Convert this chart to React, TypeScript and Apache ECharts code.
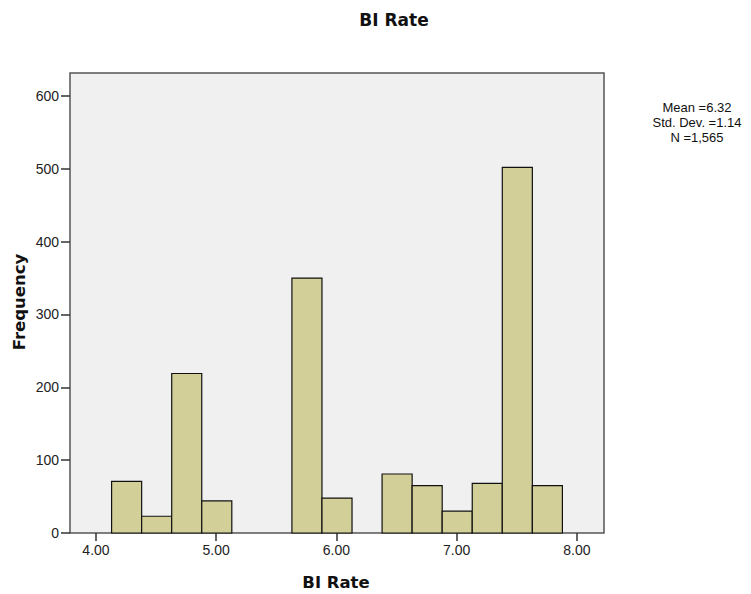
import React, { useEffect, useRef } from "react";
import * as echarts from "echarts";

const binStarts = [4.13, 4.38, 4.63, 4.88, 5.63, 5.88, 6.38, 6.63, 6.88, 7.13, 7.38, 7.63];
const binWidth = 0.25;
const frequencies = [71, 23, 219, 44, 350, 48, 81, 65, 30, 68, 502, 65];
const xTicks = [4, 5, 6, 7, 8];
const yTicks = [0, 100, 200, 300, 400, 500, 600];
const titleText = "BI Rate";
const xAxisTitle = "BI Rate";
const yAxisTitle = "Frequency";
const statsLines = ["Mean =6.32", "Std. Dev. =1.14", "N =1,565"];

export default function App() {
  const ref = useRef<HTMLDivElement>(null);
  useEffect(() => {
    if (!ref.current) return;
    const chart = echarts.init(ref.current, undefined, { renderer: "svg" });
    const data = binStarts.map((s, i) => [s, s + binWidth, frequencies[i]]);
    const font = "Liberation Sans, Arial, sans-serif";
    const boldFont = "DejaVu Sans, sans-serif";
    chart.setOption({
      animation: false,
      backgroundColor: "#ffffff",
      grid: {
        left: 70,
        top: 73,
        right: 147,
        bottom: 61,
        show: true,
        backgroundColor: "#f0f0f0",
        borderColor: "#555",
        borderWidth: 1.5,
      },
      xAxis: {
        type: "value",
        min: 3.784,
        max: 8.226,
        axisLine: { show: false },
        splitLine: { show: false },
        axisTick: { show: true, length: 8, customValues: xTicks, lineStyle: { color: "#333", width: 1.5 } },
        axisLabel: {
          customValues: xTicks,
          formatter: (v: number) => v.toFixed(2),
          fontFamily: font,
          fontSize: 14,
          color: "#222",
          margin: 10,
        },
      },
      yAxis: {
        type: "value",
        min: 0,
        max: 631.5,
        axisLine: { show: false },
        splitLine: { show: false },
        axisTick: { show: true, length: 9, customValues: yTicks, lineStyle: { color: "#333", width: 1.5 } },
        axisLabel: {
          customValues: yTicks,
          fontFamily: font,
          fontSize: 14,
          color: "#222",
          margin: 11,
        },
      },
      series: [
        {
          type: "custom",
          data,
          encode: { x: [0, 1], y: 2 },
          renderItem: (params: any, api: any) => {
            const s = api.value(0);
            const e = api.value(1);
            const v = api.value(2);
            const p0 = api.coord([s, v]);
            const p1 = api.coord([e, 0]);
            return {
              type: "rect",
              shape: { x: p0[0], y: p0[1], width: p1[0] - p0[0], height: p1[1] - p0[1] },
              style: { fill: "#d3cf98", stroke: "#111", lineWidth: 1.2 },
            };
          },
        },
      ],
      graphic: [
        {
          type: "text",
          x: 394,
          y: 20,
          style: {
            text: titleText,
            textAlign: "center",
            textVerticalAlign: "middle",
            fontFamily: boldFont,
            fontWeight: "bold",
            fontSize: 17,
            fill: "#111",
          },
        },
        {
          type: "text",
          x: 336,
          y: 582,
          style: {
            text: xAxisTitle,
            textAlign: "center",
            textVerticalAlign: "middle",
            fontFamily: boldFont,
            fontWeight: "bold",
            fontSize: 16.5,
            fill: "#111",
          },
        },
        {
          type: "text",
          x: 19,
          y: 302,
          rotation: Math.PI / 2,
          style: {
            text: yAxisTitle,
            textAlign: "center",
            textVerticalAlign: "middle",
            fontFamily: boldFont,
            fontWeight: "bold",
            fontSize: 16.5,
            fill: "#111",
          },
        },
        {
          type: "text",
          x: 697,
          y: 122,
          style: {
            text: statsLines.join("\n"),
            textAlign: "center",
            textVerticalAlign: "middle",
            fontFamily: font,
            fontSize: 13,
            lineHeight: 15,
            fill: "#111",
          },
        },
      ],
    });
    return () => chart.dispose();
  }, []);
  return (
    <div
      ref={ref}
      style={{ position: "absolute", left: 0, top: 0, width: 751, height: 594 }}
    />
  );
}
